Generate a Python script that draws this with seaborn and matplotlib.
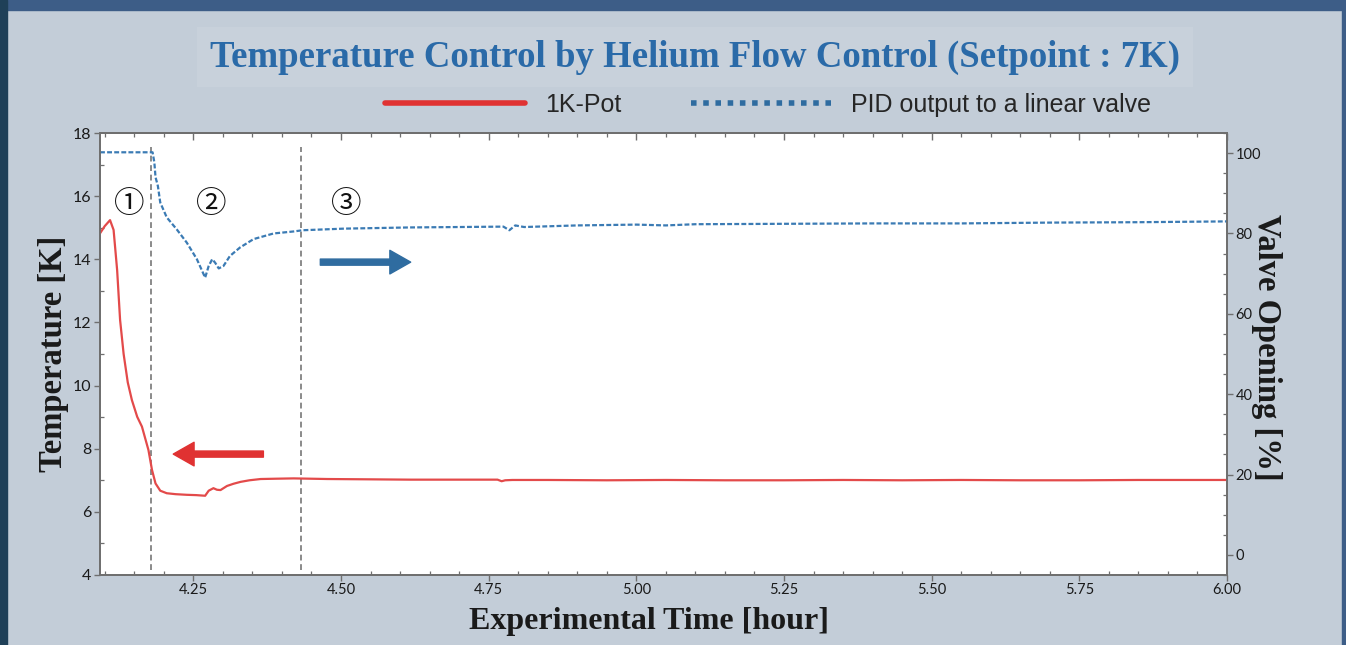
import matplotlib.pyplot as plt
import numpy as np
import seaborn as sns
import pandas as pd
from matplotlib.lines import Line2D
from matplotlib.patches import Rectangle
from matplotlib.ticker import MultipleLocator, FormatStrFormatter

# 1K-Pot temperature [K] vs time [hour]
pot_time = [4.092, 4.100, 4.109, 4.115, 4.121, 4.126, 4.132, 4.139, 4.146, 4.155, 4.163,
            4.174, 4.180, 4.186, 4.194, 4.205, 4.220, 4.239, 4.255, 4.270, 4.276, 4.284,
            4.290, 4.296, 4.307, 4.318, 4.330, 4.345, 4.364, 4.390, 4.420, 4.477, 4.550,
            4.618, 4.700, 4.765, 4.772, 4.778, 4.790, 4.850, 4.950, 5.050, 5.150, 5.250,
            5.350, 5.450, 5.550, 5.650, 5.750, 5.850, 6.000]
pot_temp = [14.82, 15.05, 15.24, 14.93, 13.66, 12.08, 11.00, 10.10, 9.54, 9.01, 8.70,
            7.96, 7.33, 6.90, 6.67, 6.59, 6.56, 6.54, 6.53, 6.51, 6.67, 6.75,
            6.70, 6.69, 6.82, 6.89, 6.95, 7.00, 7.04, 7.05, 7.06, 7.04, 7.03,
            7.02, 7.02, 7.02, 6.97, 7.00, 7.01, 7.01, 7.00, 7.01, 7.00, 7.00,
            7.01, 7.00, 7.01, 7.00, 7.00, 7.01, 7.01]

# PID output to the linear valve [%] vs time [hour]
valve_time = [4.092, 4.181, 4.184, 4.186, 4.190, 4.194, 4.205, 4.222, 4.239, 4.256, 4.270,
              4.276, 4.282, 4.287, 4.293, 4.301, 4.312, 4.329, 4.352, 4.386, 4.420, 4.435,
              4.505, 4.618, 4.700, 4.775, 4.785, 4.795, 4.810, 4.900, 5.000, 5.050, 5.100,
              5.250, 5.400, 5.550, 5.700, 5.850, 6.000]
valve_open = [100.2, 100.2, 97.7, 94.0, 91.8, 87.7, 84.0, 81.0, 77.7, 73.6, 69.0,
              71.9, 73.6, 72.7, 71.3, 71.9, 74.4, 76.5, 78.6, 80.0, 80.5, 80.8,
              81.2, 81.5, 81.6, 81.7, 80.8, 82.0, 81.6, 82.0, 82.2, 82.0, 82.3,
              82.4, 82.5, 82.5, 82.7, 82.8, 83.0]

phase_bounds = [4.179, 4.433]
phase_labels = ['①', '②', '③']
phase_x = [4.1415, 4.2805, 4.5093]

pot = pd.DataFrame({'time': pot_time, 'temp': pot_temp})
valve = pd.DataFrame({'time': valve_time, 'open': valve_open})

sns.set_style("ticks")
plt.rcParams['font.family'] = ['Lato', 'DejaVu Sans']

bg = '#c3cdd8'
fig = plt.figure(figsize=(13.46, 6.45), dpi=100, facecolor=bg)
# slide frame strips
fig.patches.append(Rectangle((0, 1 - 10 / 645), 1, 10 / 645, transform=fig.transFigure,
                             color='#3d5d87', zorder=0))
fig.patches.append(Rectangle((0, 0), 7 / 1346, 1, transform=fig.transFigure,
                             color='#1f4058', zorder=0))
fig.patches.append(Rectangle((1342 / 1346, 0), 4 / 1346, 1, transform=fig.transFigure,
                             color='#3d5d87', zorder=0))

ax = fig.add_axes([100 / 1346, 1 - 575 / 645, 1127 / 1346, 442 / 645])
ax.set_facecolor('white')
ax2 = ax.twinx()

red = '#e34a4a'
blue = '#3b7bb4'
sns.lineplot(data=pot, x='time', y='temp', ax=ax, color=red, lw=1.6, zorder=3)
sns.lineplot(data=valve, x='time', y='open', ax=ax2, color=blue, lw=1.6, dashes=False)
ax2.lines[0].set_dashes((2.2, 1.0))

for xb in phase_bounds:
    ax.plot([xb, xb], [4.15, 17.55], color='#777777', lw=1.2, ls=(0, (3.5, 2.2)), zorder=2)

for lab, xp in zip(phase_labels, phase_x):
    ax.text(xp, 15.75, lab, ha='center', va='center', fontsize=22,
            family=['Noto Sans CJK JP', 'DejaVu Sans'], color='#111111')

arrow_style = 'simple,head_length=0.75,head_width=0.85,tail_width=0.22'
ax.annotate('', xy=(4.618, 13.91), xytext=(4.465, 13.91),
            arrowprops=dict(arrowstyle=arrow_style, mutation_scale=20, color='#2f6ca0',
                            shrinkA=0, shrinkB=0))
ax.annotate('', xy=(4.216, 7.83), xytext=(4.3686, 7.83),
            arrowprops=dict(arrowstyle=arrow_style, mutation_scale=20, color='#e03232',
                            shrinkA=0, shrinkB=0))

ax.set_xlim(4.092, 6.0)
ax.set_ylim(4, 18)
ax.xaxis.set_major_locator(MultipleLocator(0.25))
ax.xaxis.set_minor_locator(MultipleLocator(0.05))
ax.xaxis.set_major_formatter(FormatStrFormatter('%.2f'))
ax.yaxis.set_major_locator(MultipleLocator(2))
ax.yaxis.set_minor_locator(MultipleLocator(1))
ax2.yaxis.set_minor_locator(MultipleLocator(5))
ax2.set_yticks(range(0, 101, 20))
ax2.set_ylim(-5, 105)

spine_c = '#6f6f6f'
for a in (ax, ax2):
    for s in a.spines.values():
        s.set_color(spine_c)
        s.set_linewidth(1.3)
    a.tick_params(which='major', direction='out', length=4, width=1, color=spine_c,
                  labelsize=10.5, labelcolor='#1a1a1a', pad=2)
    a.tick_params(which='minor', direction='in', length=3, width=0.9, color=spine_c)
ax.tick_params(axis='y', which='both', right=False)
ax.tick_params(axis='y', labelsize=11.5)

top = ax.secondary_xaxis('top')
top.xaxis.set_major_locator(MultipleLocator(0.25))
top.xaxis.set_minor_locator(MultipleLocator(0.05))
top.tick_params(which='major', direction='in', length=5, width=1, color=spine_c, labeltop=False)
top.tick_params(which='minor', direction='in', length=3, width=0.9, color=spine_c)
top.spines['top'].set_color(spine_c)
top.spines['top'].set_linewidth(1.3)

serif = ['Liberation Serif', 'DejaVu Serif']
ax.set_xlabel('Experimental Time [hour]', family=serif, weight='bold', fontsize=23,
              color='#1a1a1a', labelpad=7)
ax.xaxis.label.set_x(0.487)
ax.set_ylabel('Temperature [K]', family=serif, weight='bold', fontsize=23.5,
              color='#1a1a1a', labelpad=3)
ax2.set_ylabel('Valve Opening [%]', family=serif, weight='bold', fontsize=23.5,
               color='#1a1a1a', rotation=270, labelpad=15)
ax2.yaxis.label.set_y(0.515)

fig.text(695 / 1346, 1 - 57 / 645, 'Temperature Control by Helium Flow Control (Setpoint : 7K)',
         ha='center', va='center', family=serif, weight='bold', fontsize=26.5, color='#2a6aa8',
         bbox=dict(boxstyle='square,pad=0.35', facecolor='#c8d1db', edgecolor='none'))

handles = [Line2D([], [], color='#e03232', lw=4),
           Line2D([], [], color='#2f6ca0', lw=4, dashes=(1.0, 1.2))]
fig.legend(handles, ['1K-Pot', 'PID output to a linear valve'], loc='center',
           bbox_to_anchor=(768 / 1346, 1 - 105 / 645), ncol=2, frameon=False,
           prop={'family': ['Liberation Sans', 'DejaVu Sans'], 'size': 18},
           handlelength=5.6, handletextpad=0.8, columnspacing=2.8)

plt.savefig('out.png', dpi=100, facecolor=bg)
